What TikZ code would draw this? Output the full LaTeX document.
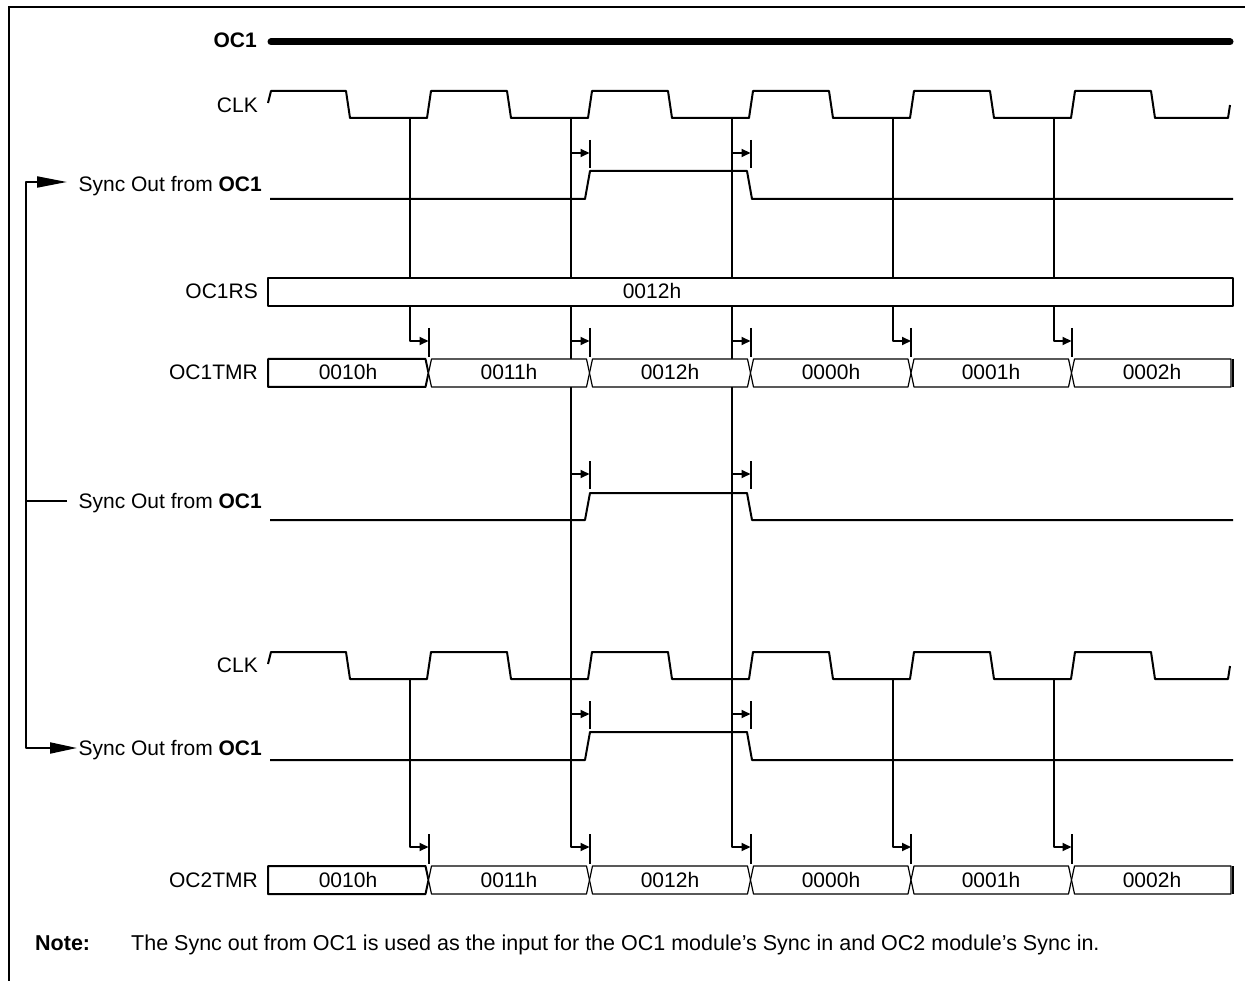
\documentclass[tikz,border=0pt]{standalone}
\usepackage{fontspec}
\setmainfont{Liberation Sans}
\usetikzlibrary{arrows.meta}
\newcommand\clkwave[2]{%
  \draw[sig] (268,#2-15) -- (271,#1)
    \foreach \k in {0,...,4}{ -- ({346+161*\k},#1) -- ({350+161*\k},#2) -- ({427+161*\k},#2) -- ({431+161*\k},#1) }
    -- (1151,#1) -- (1155,#2) -- (1228,#2) -- (1230,#2-13);
}
\newcommand\syncwave[2]{%
  \draw[sig] (270,#2) -- (585,#2) -- (590,#1) -- (747,#1) -- (752,#2) -- (1233,#2);
}
\newcommand\busrow[2]{%
  \pgfmathsetmacro\bt{#1}%
  \pgfmathsetmacro\bm{#1+14}%
  \pgfmathsetmacro\bb{#1+28}%
  \draw[busbox,line width=2pt] (268,\bt) -- (425.5,\bt) -- (428.5,\bm) -- (425.5,\bb) -- (268,\bb) -- cycle;
  \foreach \xa/\xb in {428.5/589.5,589.5/750.5,750.5/911,911/1071.5}{%
    \draw[busbox] (\xa,\bm) -- (\xa+3,\bt) -- (\xb-3,\bt) -- (\xb,\bm) -- (\xb-3,\bb) -- (\xa+3,\bb) -- cycle;}
  \draw[busbox] (1071.5,\bm) -- (1074.5,\bt) -- (1231,\bt) -- (1231,\bb) -- (1074.5,\bb) -- cycle;
  \draw[line width=2.4pt] (1233,\bt) -- (1233,\bb);
  \foreach \cx/\v/\i in {348/0010h/1,509/0011h/2,670/0012h/3,831/0000h/4,991/0001h/5,1152/0002h/6}{%
    \node[val] (#2\i) at (\cx,\bm+7) {\v};}
}
\begin{document}
\begin{tikzpicture}[x=1pt,y=-1pt,
  sig/.style={line width=2pt,line join=round},
  busbox/.style={draw,line width=1.2pt,fill=white,line join=round},
  lab/.style={anchor=base east,inner sep=0pt,font=\fontsize{21}{25}\selectfont},
  txt/.style={anchor=base west,inner sep=0pt,font=\fontsize{21.5}{25}\selectfont},
  val/.style={anchor=base,inner sep=0pt,font=\fontsize{21}{25}\selectfont},
  dly/.style={line width=2pt,line join=round,-{Triangle[length=9pt,width=8pt]}},
  tickmark/.style={line width=2pt},
  fbline/.style={line width=2pt,line join=round},
  fbtipa/.style={-{Triangle[length=30pt,width=11pt]}},
  fbtipb/.style={-{Triangle[length=27pt,width=11pt]}},
]
\useasboundingbox (0,0) rectangle (1245,981);
% frame
\draw[line width=2pt] (9,981) -- (9,7) -- (1245,7);

% labels
\node[lab] (lOC1) at (257,48) {\bfseries OC1};
\node[lab] (lCLK1) at (258,113) {CLK};
\node[lab] (lSync1) at (262,192) {Sync Out from \textbf{OC1}};
\node[lab] (lRS) at (258,299) {OC1RS};
\node[lab] (lTMR1) at (258,380) {OC1TMR};
\node[lab] (lSync2) at (262,508) {Sync Out from \textbf{OC1}};
\node[lab] (lCLK2) at (258,672) {CLK};
\node[lab] (lSync3) at (262,755) {Sync Out from \textbf{OC1}};
\node[lab] (lTMR2) at (258,887) {OC2TMR};
\node[txt] (note) at (35,950) {\bfseries Note:};
\node[txt] (notetext) at (131,950) {The Sync out from OC1 is used as the input for the OC1 module’s Sync in and OC2 module’s Sync in.};

% OC1 thick line
\coordinate (oc1a) at (271,42);
\coordinate (oc1b) at (1230,42);
\draw[line width=7pt,line cap=round] (oc1a) -- (oc1b);

% clock waveforms
\clkwave{91}{118}
\clkwave{652}{679}

% vertical timing lines (upper)
\foreach \x/\t in {410/428.5,893/911,1054/1071.5}{
  \coordinate (ua\x) at (\x,118);
  \coordinate (ub\x) at (\t,341);
  \draw[dly] (ua\x) |- (ub\x);
}
% long lines
\foreach \x/\t in {571/589.5,732/750.5}{
  \coordinate (la\x) at (\x,118);
  \coordinate (lb\x) at (\t,847);
  \draw[dly] (la\x) |- (lb\x);
  \foreach \yy in {153,341,474,714}{
    \coordinate (lc\x\yy) at (\x,\yy);
    \coordinate (ld\x\yy) at (\t,\yy);
    \draw[dly] (lc\x\yy) -- (ld\x\yy);
  }
}
% lower short lines
\foreach \x/\t in {410/428.5,893/911,1054/1071.5}{
  \coordinate (wa\x) at (\x,679);
  \coordinate (wb\x) at (\t,847);
  \draw[dly] (wa\x) |- (wb\x);
}

% OC1RS box
\draw[busbox,line width=2pt] (268,278) rectangle (1233,306);
\node[val] (rsval) at (652,299) {0012h};

% buses
\busrow{359}{tA}
\busrow{866}{tB}

% sync waveforms
\syncwave{171}{199}
\syncwave{493}{520}
\syncwave{732}{760}

% ticks
\foreach \t in {589.5,750.5}{
  \draw[tickmark] (\t,140) -- (\t,168);
  \draw[tickmark] (\t,461) -- (\t,489);
  \draw[tickmark] (\t,701) -- (\t,729);
}
\foreach \t in {428.5,589.5,750.5,911,1071.5}{
  \draw[tickmark] (\t,328) -- (\t,357);
  \draw[tickmark] (\t,834) -- (\t,864);
}

% feedback of sync out
\coordinate (src) at (67,501);
\coordinate (fbmid) at (26,501);
\coordinate (in1) at (67,182);
\coordinate (in3) at (77,748);
\draw[fbline] (src) -- (fbmid);
\draw[fbline,fbtipa] (fbmid) |- (in1);
\draw[fbline,fbtipb] (fbmid) |- (in3);
\end{tikzpicture}
\end{document}
